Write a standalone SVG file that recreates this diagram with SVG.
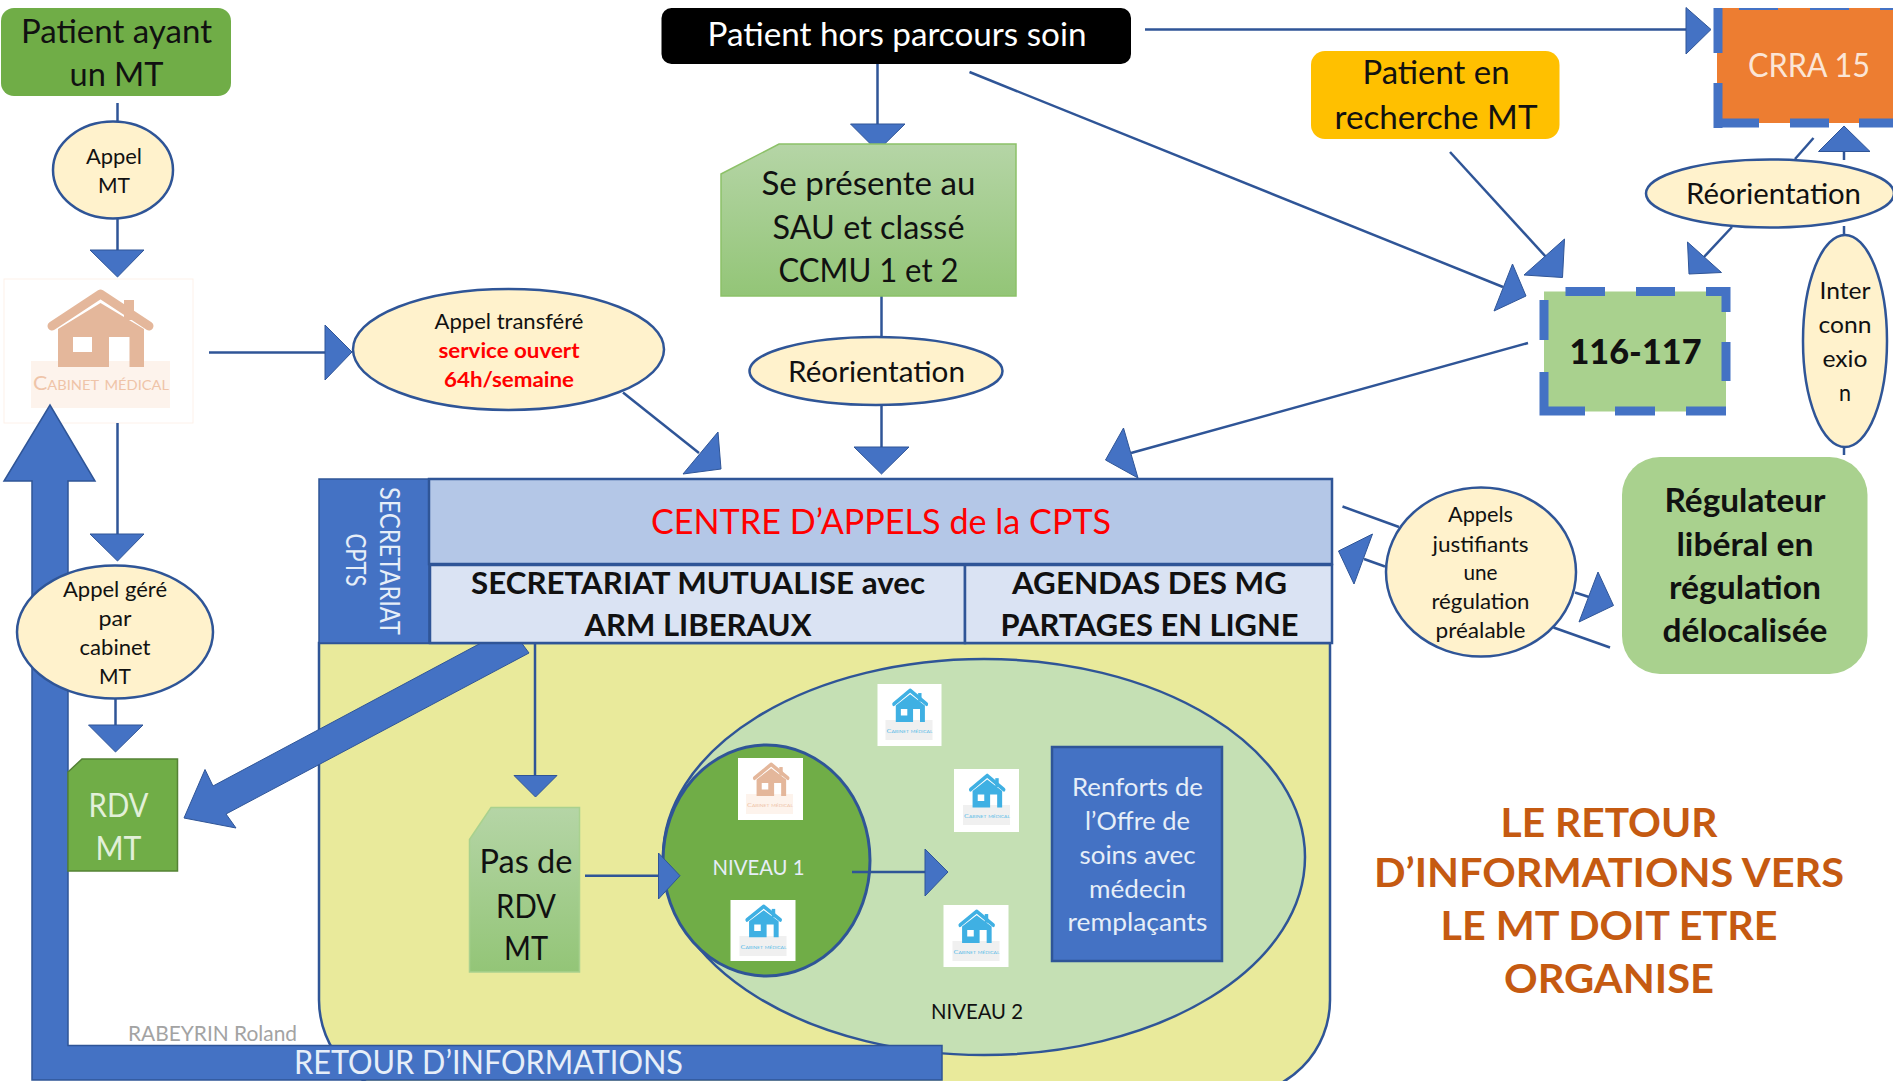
<svg xmlns="http://www.w3.org/2000/svg" width="1893" height="1081" viewBox="0 0 1893 1081">
<style>
text{font-family:"Lato","Carlito","Open Sans",sans-serif;text-anchor:middle;fill:#111}
.b{font-weight:700}
.w{fill:#e6eef8}
.ln{fill:none;stroke:#2f5597;stroke-width:2.5}
.tri{fill:#4472c4;stroke:#2f5597;stroke-width:1}
.el{fill:#fff2cc;stroke:#2f5597;stroke-width:2.5}
.dash{fill:none;stroke:#4472c4;stroke-width:9}
.ic{fill:#fff}
.cap{font-variant:small-caps;font-size:6px}
.blue{color:#3fb0e3}
.or{color:#e4b79b}
</style>
<defs>
<linearGradient id="g1" x1="0" y1="0" x2="0" y2="1"><stop offset="0" stop-color="#b5d5a6"/><stop offset="1" stop-color="#93c577"/></linearGradient>
<symbol id="house" viewBox="0 0 189 144" preserveAspectRatio="none">
<path fill="currentColor" fill-rule="evenodd" d="M54 88V50L96.500 24 140 50V88H125.500V58H105V88ZM69 58H88V73H69Z"/>
<rect fill="currentColor" x="120" y="21" width="10" height="20"/>
<polyline points="48,47 96.500,15 145,47" fill="none" stroke="currentColor" stroke-width="9" stroke-linecap="round" stroke-linejoin="round"/>
</symbol>
</defs>
<rect width="1893" height="1081" fill="#fff"/>

<g id="cabinet">
<rect x="4" y="279" width="189" height="144" fill="#fff" stroke="#fdf1ea" stroke-width="1"/>
<rect x="31" y="361" width="139" height="47" fill="#fdf3ec"/>
<use href="#house" class="or" x="4" y="279" width="189" height="144"/>
<text x="101" y="390" style="font-variant:small-caps;fill:#efc4a8" font-size="19" textLength="136" lengthAdjust="spacingAndGlyphs">Cabinet médical</text>
</g>

<g id="centre">
<path d="M319 643V1000A95 95 0 0 0 414 1095H1235A95 95 0 0 0 1330 1000V643Z" fill="#e9ea9b" stroke="#2f5597" stroke-width="2.500"/>
</g>
<g id="niveau2">
<ellipse cx="984" cy="857" rx="321" ry="198" fill="#c5e0b4" stroke="#2f5597" stroke-width="2.500"/>
<text x="977" y="1019" font-size="21" textLength="92" lengthAdjust="spacingAndGlyphs">NIVEAU 2</text>
</g>
<g id="niveau1">
<ellipse cx="766.500" cy="860.500" rx="103.500" ry="115.500" fill="#70ad47" stroke="#2f5597" stroke-width="3"/>
<text class="w" x="758.500" y="875" font-size="21" textLength="92" lengthAdjust="spacingAndGlyphs">NIVEAU 1</text>
</g>
<g id="cabinet-a"><rect class="ic" x="877.500" y="684" width="64" height="62"/><rect x="885.500" y="720" width="47" height="20" fill="#f0f0f0"/><use href="#house" class="blue" x="877.500" y="684" width="64" height="62"/><text class="cap" x="909.500" y="733" style="fill:#5dbde8" textLength="46" lengthAdjust="spacingAndGlyphs">Cabinet médical</text></g>
<g id="cabinet-b"><rect class="ic" x="738" y="758" width="65" height="62"/><rect x="746" y="794" width="47" height="20" fill="#fdf3ec"/><use href="#house" class="or" x="738" y="758" width="65" height="62"/><text class="cap" x="770" y="807" style="fill:#efc4a8" textLength="46" lengthAdjust="spacingAndGlyphs">Cabinet médical</text></g>
<g id="cabinet-c"><rect class="ic" x="954" y="769" width="65" height="63"/><rect x="963" y="805" width="47" height="20" fill="#f0f0f0"/><use href="#house" class="blue" x="954" y="769" width="65" height="63"/><text class="cap" x="987" y="818" style="fill:#5dbde8" textLength="46" lengthAdjust="spacingAndGlyphs">Cabinet médical</text></g>
<g id="cabinet-d"><rect class="ic" x="730.500" y="900" width="65" height="61"/><rect x="739.500" y="936" width="47" height="20" fill="#f0f0f0"/><use href="#house" class="blue" x="730.500" y="900" width="65" height="61"/><text class="cap" x="763.500" y="949" style="fill:#5dbde8" textLength="46" lengthAdjust="spacingAndGlyphs">Cabinet médical</text></g>
<g id="cabinet-e"><rect class="ic" x="943.500" y="905" width="65" height="62"/><rect x="952.500" y="941" width="47" height="20" fill="#f0f0f0"/><use href="#house" class="blue" x="943.500" y="905" width="65" height="62"/><text class="cap" x="976.500" y="954" style="fill:#5dbde8" textLength="46" lengthAdjust="spacingAndGlyphs">Cabinet médical</text></g>
<g id="renforts">
<rect x="1052" y="747" width="170" height="214" fill="#4472c4" stroke="#2f5597" stroke-width="2.500"/>
<g class="rt" font-size="25">
<text class="w" x="1137.500" y="796" textLength="131" lengthAdjust="spacingAndGlyphs">Renforts de</text>
<text class="w" x="1137.500" y="830" textLength="105" lengthAdjust="spacingAndGlyphs">l’Offre de</text>
<text class="w" x="1137.500" y="864" textLength="116" lengthAdjust="spacingAndGlyphs">soins avec</text>
<text class="w" x="1137.500" y="898" textLength="97" lengthAdjust="spacingAndGlyphs">médecin</text>
<text class="w" x="1137.500" y="931" textLength="140" lengthAdjust="spacingAndGlyphs">remplaçants</text>
</g>
</g>

<g id="connectors">
<line class="ln" x1="117.500" y1="103" x2="117.500" y2="121"/>
<line class="ln" x1="117.500" y1="219" x2="117.500" y2="251"/>
<polygon class="tri" points="90,250 144,250 117.500,277"/>
<line class="ln" x1="209" y1="352.500" x2="327" y2="352.500"/>
<polygon class="tri" points="325,325 352,352 325,380"/>
<line class="ln" x1="623" y1="392.500" x2="699" y2="453"/>
<polygon class="tri" points="718,432 721,469 683,474"/>
<line class="ln" x1="117.500" y1="423" x2="117.500" y2="535"/>
<polygon class="tri" points="90,534 144,534 117.500,561"/>
<line class="ln" x1="115.500" y1="699" x2="115.500" y2="726"/>
<polygon class="tri" points="88.500,725 143,725 115.500,752"/>
<path d="M68 1045.500H942V1080H32V481H4L50 405 95 481H68Z" fill="#4472c4" stroke="#2f5597" stroke-width="1.500"/>
<polygon class="tri" points="480,643.500 522,643.500 529,653 226,814 236,828 184,818 205,769.500 213,786"/>
<line class="ln" x1="535" y1="643" x2="535" y2="776"/>
<polygon class="tri" points="514,775.500 557,775.500 535.500,797"/>
<line class="ln" x1="585" y1="875.700" x2="659" y2="875.700"/>
<polygon class="tri" points="658.500,853 680,875.700 658.500,899"/>
<line class="ln" x1="852" y1="872" x2="926" y2="872"/>
<polygon class="tri" points="925,849 948,872 925,896"/>
<line class="ln" x1="877.500" y1="64" x2="877.500" y2="125"/>
<polygon class="tri" points="850.500,124 905,124 877.500,151"/>
<line class="ln" x1="881.500" y1="296" x2="881.500" y2="338"/>
<line class="ln" x1="881.500" y1="405" x2="881.500" y2="448"/>
<polygon class="tri" points="854,447 909,447 881.500,474"/>
<line class="ln" x1="969.500" y1="72" x2="1503" y2="287"/>
<polygon class="tri" points="1512.500,264 1526,296 1494,311"/>
<line class="ln" x1="1528" y1="343" x2="1131" y2="453"/>
<polygon class="tri" points="1123.500,428 1138,478 1105.500,460"/>
<line class="ln" x1="1145" y1="29.500" x2="1687" y2="29.500"/>
<polygon class="tri" points="1686,7.500 1711,29.500 1686,54"/>
<line class="ln" x1="1450" y1="152" x2="1546" y2="257"/>
<polygon class="tri" points="1564.500,239 1562.500,277.500 1524,275"/>
<line class="ln" x1="1813.500" y1="138" x2="1795" y2="159"/>
<line class="ln" x1="1844" y1="151" x2="1844" y2="160"/>
<polygon class="tri" points="1844,126 1818.500,151.500 1870,151.500"/>
<line class="ln" x1="1844" y1="226" x2="1844" y2="235"/>
<line class="ln" x1="1844" y1="446" x2="1844" y2="455"/>
<line class="ln" x1="1732" y1="227" x2="1704" y2="257"/>
<polygon class="tri" points="1687.500,242 1721.500,272.500 1689,274"/>
<line class="ln" x1="1342.500" y1="506.500" x2="1399" y2="527"/>
<line class="ln" x1="1385" y1="566.500" x2="1364" y2="559"/>
<polygon class="tri" points="1372.500,534 1338.500,551 1354,584"/>
<line class="ln" x1="1575" y1="592.500" x2="1589" y2="597"/>
<polygon class="tri" points="1598,572 1613.500,605.500 1579,622"/>
<line class="ln" x1="1553.500" y1="627.500" x2="1610" y2="647.500"/>
</g>
<text id="retour-label" class="w" x="488.500" y="1074" font-size="33" textLength="389" lengthAdjust="spacingAndGlyphs">RETOUR D’INFORMATIONS</text>

<g id="secretariat">
<rect x="319" y="479" width="110" height="164" fill="#4472c4" stroke="#2f5597" stroke-width="1.500"/>
<text class="w" transform="translate(379.500 561) rotate(90)" font-size="27" textLength="148" lengthAdjust="spacingAndGlyphs">SECRETARIAT</text>
<text class="w" transform="translate(346 560) rotate(90)" font-size="27" textLength="53" lengthAdjust="spacingAndGlyphs">CPTS</text>
</g>
<g id="centre-appels">
<rect x="429" y="479" width="903" height="85" fill="#b4c7e7" stroke="#2f5597" stroke-width="2.500"/>
<text x="881" y="534" font-size="35" style="fill:#ff0000" textLength="460" lengthAdjust="spacingAndGlyphs">CENTRE D’APPELS de la CPTS</text>
</g>
<g id="secretariat-mutualise">
<rect x="430" y="565" width="535" height="78" fill="#dae3f3" stroke="#2f5597" stroke-width="2.500"/>
<text class="b" x="698" y="594" font-size="31" textLength="454" lengthAdjust="spacingAndGlyphs">SECRETARIAT MUTUALISE avec</text>
<text class="b" x="698" y="636" font-size="31" textLength="227" lengthAdjust="spacingAndGlyphs">ARM LIBERAUX</text>
</g>
<g id="agendas">
<rect x="965" y="565" width="367" height="78" fill="#dae3f3" stroke="#2f5597" stroke-width="2.500"/>
<text class="b" x="1149.500" y="594" font-size="31" textLength="275" lengthAdjust="spacingAndGlyphs">AGENDAS DES MG</text>
<text class="b" x="1149.500" y="636" font-size="31" textLength="298" lengthAdjust="spacingAndGlyphs">PARTAGES EN LIGNE</text>
</g>

<g id="patient-mt">
<rect x="1" y="8" width="230" height="88" rx="13" fill="#70ad47"/>
<text x="116.500" y="42.500" font-size="32" textLength="191" lengthAdjust="spacingAndGlyphs">Patient ayant</text>
<text x="116.500" y="86" font-size="32" textLength="94" lengthAdjust="spacingAndGlyphs">un MT</text>
</g>
<g id="appel-mt">
<ellipse class="el" cx="113" cy="170" rx="60" ry="48.500"/>
<text x="114" y="164" font-size="21" textLength="56" lengthAdjust="spacingAndGlyphs">Appel</text>
<text x="114" y="193" font-size="21" textLength="32" lengthAdjust="spacingAndGlyphs">MT</text>
</g>
<g id="appel-transfere">
<ellipse class="el" cx="508.500" cy="349.500" rx="155.500" ry="60.500"/>
<text x="509" y="329" font-size="21" textLength="149" lengthAdjust="spacingAndGlyphs">Appel transféré</text>
<text class="b" x="509" y="358" font-size="21" style="fill:#ff0000" textLength="141" lengthAdjust="spacingAndGlyphs">service ouvert</text>
<text class="b" x="509" y="387" font-size="21" style="fill:#ff0000" textLength="130" lengthAdjust="spacingAndGlyphs">64h/semaine</text>
</g>
<g id="appel-gere">
<ellipse class="el" cx="115" cy="632" rx="98" ry="66.500"/>
<text x="115" y="597" font-size="21" textLength="104" lengthAdjust="spacingAndGlyphs">Appel géré</text>
<text x="115" y="626" font-size="21" textLength="33" lengthAdjust="spacingAndGlyphs">par</text>
<text x="115" y="655" font-size="21" textLength="71" lengthAdjust="spacingAndGlyphs">cabinet</text>
<text x="115" y="684" font-size="21" textLength="32" lengthAdjust="spacingAndGlyphs">MT</text>
</g>
<g id="rdv-mt">
<path d="M68 772L82 759H177.500V871H68Z" fill="#70ad47" stroke="#548235" stroke-width="1.500"/>
<text x="118.500" y="817" font-size="32" style="fill:#e2f0d9" textLength="60" lengthAdjust="spacingAndGlyphs">RDV</text>
<text x="118.500" y="860" font-size="32" style="fill:#e2f0d9" textLength="46" lengthAdjust="spacingAndGlyphs">MT</text>
</g>
<g id="pas-rdv">
<path d="M469.500 839.500L491 807.500H579.500V972H469.500Z" fill="url(#g1)" stroke="#a9d18e" stroke-width="1.500"/>
<text x="526" y="873" font-size="32" textLength="93" lengthAdjust="spacingAndGlyphs">Pas de</text>
<text x="526" y="918" font-size="32" textLength="60" lengthAdjust="spacingAndGlyphs">RDV</text>
<text x="526" y="960" font-size="32" textLength="44" lengthAdjust="spacingAndGlyphs">MT</text>
</g>
<g id="patient-hors">
<rect x="661.500" y="8" width="469.500" height="56" rx="10" fill="#000"/>
<text x="897" y="46" font-size="32" style="fill:#fff" textLength="379" lengthAdjust="spacingAndGlyphs">Patient hors parcours soin</text>
</g>
<g id="sau">
<path d="M721 174L779 144H1016V296H721Z" fill="url(#g1)" stroke="#8cc168" stroke-width="1.500"/>
<text x="868.500" y="195" font-size="32" textLength="214" lengthAdjust="spacingAndGlyphs">Se présente au</text>
<text x="868.500" y="239" font-size="32" textLength="192" lengthAdjust="spacingAndGlyphs">SAU et classé</text>
<text x="868.500" y="282" font-size="32" textLength="180" lengthAdjust="spacingAndGlyphs">CCMU 1 et 2</text>
</g>
<g id="reorientation-1">
<ellipse class="el" cx="876" cy="371" rx="126.500" ry="34"/>
<text x="876.500" y="382" font-size="28" textLength="177" lengthAdjust="spacingAndGlyphs">Réorientation</text>
</g>
<g id="crra">
<rect x="1717" y="8" width="176" height="115" fill="#ed7d31"/>
<path class="dash" d="M1718 8V53M1718 83V128M1720 123H1759M1790 123H1829M1859 123H1893"/>
<path fill="none" stroke="#4472c4" stroke-width="2" d="M1739 9H1778M1810 9H1849M1880 9H1893"/>
<text x="1809" y="77" font-size="32" style="fill:#fbe5d6" textLength="122" lengthAdjust="spacingAndGlyphs">CRRA 15</text>
</g>
<g id="patient-recherche">
<rect x="1311" y="51" width="248.500" height="88" rx="14" fill="#ffc000"/>
<text x="1436" y="84" font-size="32" textLength="147" lengthAdjust="spacingAndGlyphs">Patient en</text>
<text x="1436" y="129" font-size="32" textLength="203" lengthAdjust="spacingAndGlyphs">recherche MT</text>
</g>
<g id="numero-116">
<rect x="1544" y="291.500" width="182" height="120" fill="#a9d18e"/>
<path class="dash" d="M1565.500 291.500H1605M1636 291.500H1675M1706 291.500H1726V312M1726 342V381M1726 411H1686M1655 411H1615M1585 411H1544V372M1544 340V300"/>
<text class="b" x="1635.500" y="364" font-size="35" style="font-weight:900" textLength="132" lengthAdjust="spacingAndGlyphs">116-117</text>
</g>
<g id="reorientation-2">
<ellipse class="el" cx="1770" cy="193.500" rx="124" ry="34"/>
<text x="1773.500" y="204" font-size="28" textLength="175" lengthAdjust="spacingAndGlyphs">Réorientation</text>
</g>
<g id="interconnexion">
<ellipse class="el" cx="1845" cy="341" rx="42" ry="106"/>
<text x="1845" y="299" font-size="24" textLength="51" lengthAdjust="spacingAndGlyphs">Inter</text>
<text x="1845" y="333" font-size="24" textLength="53" lengthAdjust="spacingAndGlyphs">conn</text>
<text x="1845" y="367" font-size="24" textLength="45" lengthAdjust="spacingAndGlyphs">exio</text>
<text x="1845" y="401" font-size="24" textLength="12" lengthAdjust="spacingAndGlyphs">n</text>
</g>
<g id="regulateur">
<rect x="1622" y="457" width="245.500" height="217" rx="38" fill="#a9d18e"/>
<text class="b" x="1745" y="511.500" font-size="32" textLength="161" lengthAdjust="spacingAndGlyphs">Régulateur</text>
<text class="b" x="1745" y="555.500" font-size="32" textLength="137" lengthAdjust="spacingAndGlyphs">libéral en</text>
<text class="b" x="1745" y="598.500" font-size="32" textLength="152" lengthAdjust="spacingAndGlyphs">régulation</text>
<text class="b" x="1745" y="642" font-size="32" textLength="165" lengthAdjust="spacingAndGlyphs">délocalisée</text>
</g>
<g id="appels-justifiants">
<ellipse class="el" cx="1481" cy="572" rx="95" ry="84.500"/>
<text x="1480.500" y="522" font-size="21" textLength="65" lengthAdjust="spacingAndGlyphs">Appels</text>
<text x="1480.500" y="552" font-size="21" textLength="96" lengthAdjust="spacingAndGlyphs">justifiants</text>
<text x="1480.500" y="580" font-size="21" textLength="34" lengthAdjust="spacingAndGlyphs">une</text>
<text x="1480.500" y="609" font-size="21" textLength="98" lengthAdjust="spacingAndGlyphs">régulation</text>
<text x="1480.500" y="638" font-size="21" textLength="90" lengthAdjust="spacingAndGlyphs">préalable</text>
</g>
<text id="auteur" x="212.500" y="1041" font-size="21" style="fill:#a3a3a3" textLength="169" lengthAdjust="spacingAndGlyphs">RABEYRIN Roland</text>
<g id="message">
<text class="b" x="1609" y="837" font-size="40" style="fill:#c55a11" textLength="217" lengthAdjust="spacingAndGlyphs">LE RETOUR</text>
<text class="b" x="1609" y="887" font-size="40" style="fill:#c55a11" textLength="470" lengthAdjust="spacingAndGlyphs">D’INFORMATIONS VERS</text>
<text class="b" x="1609" y="940" font-size="40" style="fill:#c55a11" textLength="337" lengthAdjust="spacingAndGlyphs">LE MT DOIT ETRE</text>
<text class="b" x="1609" y="993" font-size="40" style="fill:#c55a11" textLength="210" lengthAdjust="spacingAndGlyphs">ORGANISE</text>
</g>
</svg>
